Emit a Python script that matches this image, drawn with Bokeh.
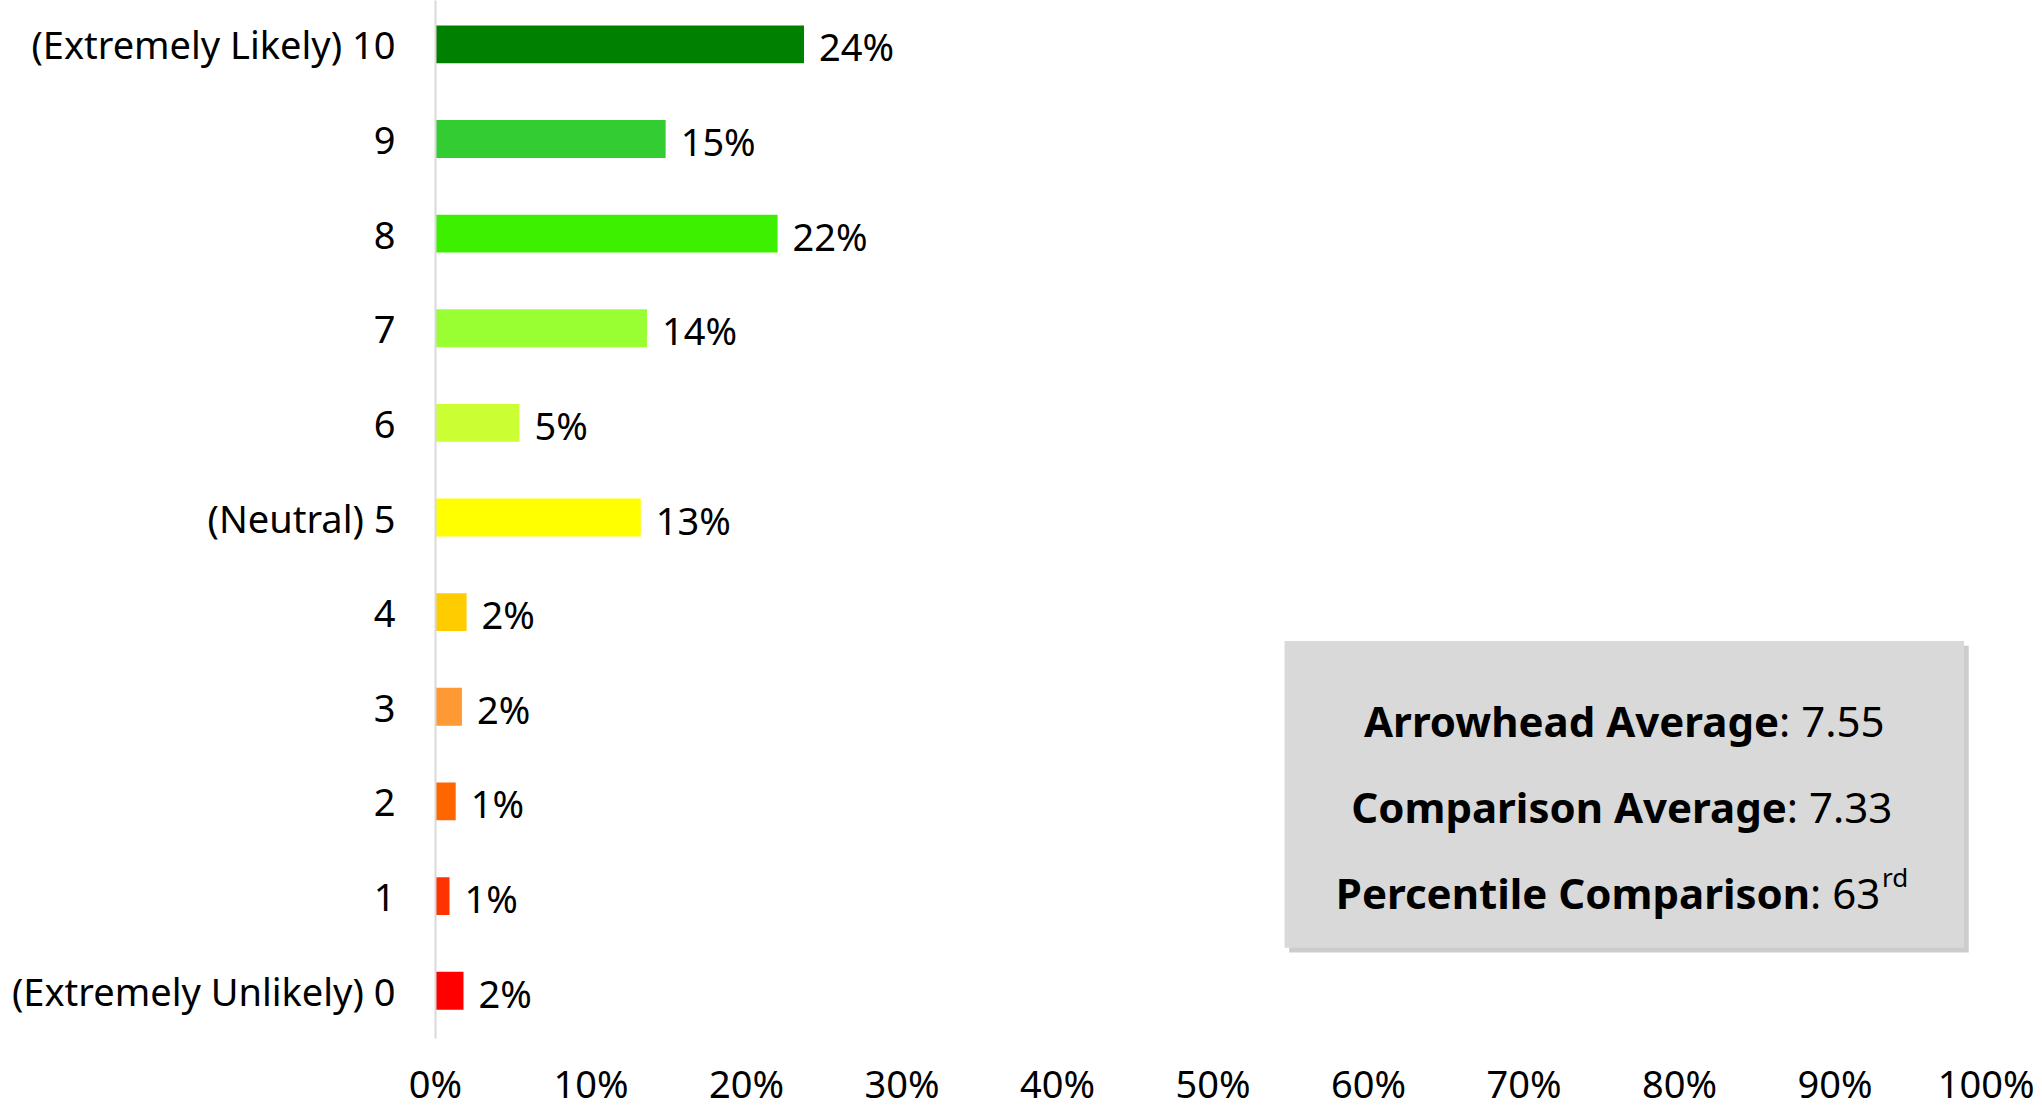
from bokeh.plotting import figure
from bokeh.models import Range1d, FixedTicker, PrintfTickFormatter, ColumnDataSource
from bokeh.core.properties import value
from bokeh.embed import file_html
from bokeh.resources import INLINE

scores = [0, 1, 2, 3, 4, 5, 6, 7, 8, 9, 10]
score_labels = ["(Extremely Unlikely) 0", "1", "2", "3", "4", "(Neutral) 5",
                "6", "7", "8", "9", "(Extremely Likely) 10"]
pcts = [1.8, 0.9, 1.3, 1.7, 2.0, 13.2, 5.4, 13.6, 22.0, 14.8, 23.7]
bar_colors = ["#ff0000", "#ff3300", "#ff6600", "#ff9933", "#ffcc00", "#ffff00",
              "#ccff33", "#99ff33", "#3cf000", "#33cc33", "#008000"]
x_ticks = [0, 10, 20, 30, 40, 50, 60, 70, 80, 90, 100]

stat_names = ["Arrowhead Average", "Comparison Average", "Percentile Comparison"]
stat_values = [": 7.55", ": 7.33", ": 63"]

FONT = "Noto Sans"

p = figure(width=2034, height=1111, output_backend="svg", toolbar_location=None,
           x_range=Range1d(0, 100), y_range=Range1d(-0.505, 10.463),
           min_border_left=435, min_border_right=44, min_border_top=0,
           min_border_bottom=69)
p.outline_line_color = None
p.xgrid.visible = False
p.ygrid.visible = False
p.background_fill_color = "white"

src = ColumnDataSource(dict(y=scores, x=pcts, c=bar_colors,
                            lab=[f"{round(v)}%" for v in pcts]))
p.hbar(y="y", left=0, right="x", height=0.4, fill_color="c", line_color=None, source=src)
p.text(x="x", y="y", text="lab", source=src, x_offset=15, y_offset=2,
       text_font=value(FONT), text_font_size="38px", text_color="black",
       text_baseline="middle", text_align="left")

# y axis
ya = p.yaxis[0]
ya.ticker = FixedTicker(ticks=scores)
ya.major_label_overrides = {s: l for s, l in zip(scores, score_labels)}
ya.axis_line_color = "#d9d9d9"
ya.axis_line_width = 2
ya.major_tick_out = 0
ya.major_tick_in = 0
ya.minor_tick_out = 0
ya.minor_tick_in = 0
ya.major_label_standoff = 40
ya.major_label_text_font = FONT
ya.major_label_text_font_size = "38px"
ya.major_label_text_color = "black"

# x axis
xa = p.xaxis[0]
xa.ticker = FixedTicker(ticks=x_ticks)
xa.formatter = PrintfTickFormatter(format="%d%%")
xa.axis_line_color = None
xa.major_tick_out = 0
xa.major_tick_in = 0
xa.minor_tick_out = 0
xa.minor_tick_in = 0
xa.major_label_standoff = 18
xa.major_label_text_font = FONT
xa.major_label_text_font_size = "38px"
xa.major_label_text_color = "black"

# stats box with shadow
p.quad(left=[54.6 + 0.3], right=[98.3 + 0.3], bottom=[0.453 - 0.05], top=[3.695 - 0.05],
       fill_color="#7f7f7f", fill_alpha=0.4, line_color=None)
p.quad(left=[54.6], right=[98.3], bottom=[0.453], top=[3.695],
       fill_color="#d9d9d9", line_color=None)

line_y = [2.853, 1.947, 1.042]
split_x = [86.4, 86.9, 88.4]
p.text(x=split_x, y=line_y, text=stat_names, text_font=value(FONT),
       text_font_style="bold", text_font_size="42px", text_color="black",
       text_align="right", text_baseline="middle")
p.text(x=split_x, y=line_y, text=stat_values, text_font=value(FONT),
       text_font_size="42px", text_color="black",
       text_align="left", text_baseline="middle")
p.text(x=[split_x[2]], y=[line_y[2] + 0.16], text=["rd"], x_offset=72,
       text_font=value(FONT), text_font_size="26px", text_color="black",
       text_align="left", text_baseline="middle")

open("out.html", "w").write(file_html(p, INLINE))
